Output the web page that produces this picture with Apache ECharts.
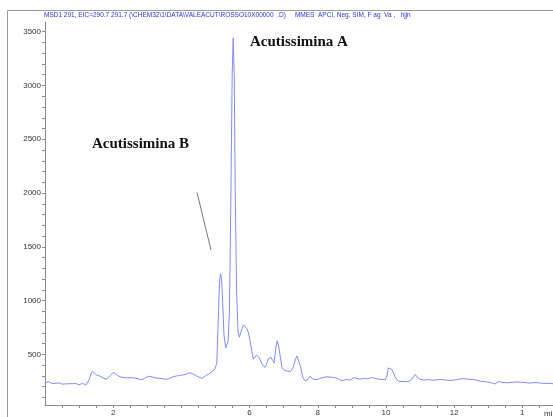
<!DOCTYPE html>
<html><head><meta charset="utf-8">
<script src="https://cdn.jsdelivr.net/npm/echarts@6/dist/echarts.min.js"></script>
<style>html,body{margin:0;padding:0;background:#fff}#c{width:553px;height:417px}</style>
</head><body><div id="c"></div>
<script>
// Retention time (min)
var times = [0.00,0.05,0.10,0.15,0.20,0.25,0.30,0.35,0.40,0.45,0.50,0.55,0.60,0.65,0.70,0.75,0.80,0.85,0.90,0.95,
1.00,1.05,1.10,1.15,1.20,1.25,1.30,1.35,1.40,1.45,1.50,1.55,1.60,1.65,1.70,1.75,1.80,1.85,1.90,1.95,
2.00,2.05,2.10,2.15,2.20,2.25,2.30,2.35,2.40,2.45,2.55,2.65,2.75,2.85,2.95,3.05,3.15,3.25,3.35,3.45,
3.55,3.65,3.75,3.85,3.95,4.05,4.15,4.25,4.35,4.45,4.55,4.62,4.70,4.80,4.90,4.98,5.04,5.08,5.12,5.15,
5.18,5.21,5.25,5.30,5.33,5.37,5.41,5.45,5.49,5.52,5.55,5.58,5.62,5.66,5.70,5.74,5.78,5.82,5.87,5.92,
5.97,6.04,6.11,6.16,6.21,6.28,6.36,6.45,6.50,6.55,6.62,6.68,6.72,6.77,6.81,6.85,6.89,6.95,7.02,7.12,
7.20,7.28,7.35,7.39,7.45,7.50,7.56,7.62,7.70,7.78,7.85,7.95,8.05,8.15,8.27,8.40,8.55,8.66,8.75,8.85,
8.95,9.05,9.15,9.24,9.35,9.45,9.59,9.70,9.83,9.98,10.03,10.07,10.12,10.17,10.22,10.27,10.37,10.50,10.61,10.70,
10.76,10.82,10.86,10.90,10.95,11.10,11.25,11.40,11.59,11.75,11.90,12.08,12.18,12.27,12.40,12.57,12.76,12.95,13.10,13.20,
13.30,13.42,13.55,13.70,13.82,13.94,14.10,14.20,14.33,14.50,14.60,14.72,14.90];
// Abundance
var abundance = [235,245,248,240,232,238,230,226,235,228,224,232,226,220,228,235,228,222,230,226,
218,224,232,222,215,222,268,320,342,330,310,322,300,290,282,276,268,285,300,318,
332,318,312,300,292,296,285,290,282,288,285,280,272,264,285,298,290,282,278,273,
270,276,292,300,304,310,318,330,318,300,285,279,300,318,340,362,420,800,1180,1250,
1200,1000,680,560,555,620,900,1900,3100,3440,3100,2000,1100,720,660,657,740,775,770,740,
700,580,455,470,495,470,414,380,410,460,475,445,420,560,626,580,500,380,350,345,
342,380,460,485,430,380,290,258,262,298,272,265,275,285,292,288,282,262,258,268,
262,285,276,270,278,274,285,276,268,265,300,375,368,360,330,290,250,248,245,255,
270,295,315,298,275,262,266,260,268,262,258,265,272,275,270,268,252,245,236,225,
248,240,236,240,244,242,238,233,238,236,230,232,228];
var xLabelTimes = [2, 6, 8, 10, 12, 14];
var xLabelTexts = ['2', '6', '8', '10', '12', '1'];
var yLabelValues = [500, 1000, 1500, 2000, 2500, 3000, 3500];
var yTickValues = [100,200,300,400,500,600,700,800,900,1000,1100,1200,1300,1400,1500,1600,1700,1800,1900,2000,
2100,2200,2300,2400,2500,2600,2700,2800,2900,3000,3100,3200,3300,3400,3500];
var titleText = 'MSD1 291, EIC=290.7 291.7 (\\CHEM32\\1\\DATA\\VALEACUT\\ROSSO10X00000  .D)     MMES  APCI, Neg, SIM, F ag  Va ,   hjjn';
var leader = [[4.46, 2005], [4.87, 1469]];

var chart = echarts.init(document.getElementById('c'), null, {renderer: 'canvas'});
var pts = times.map(function (t, i) { return [t, abundance[i]]; });
var axisGray = '#8a8a8a';
chart.setOption({
  animation: false,
  title: {
    text: titleText, left: 44, top: 12, padding: 0,
    textStyle: {fontSize: 6.5, fontWeight: 'normal', color: '#2a35d8', fontFamily: 'Liberation Sans'}
  },
  grid: {left: 45, right: 0, top: 22, bottom: 9, containLabel: false},
  xAxis: {
    type: 'value', min: 0, max: 14.9, interval: 0.5,
    axisLine: {lineStyle: {color: axisGray, width: 1}},
    axisTick: {show: true, length: 3, lineStyle: {color: axisGray}},
    splitLine: {show: false},
    axisLabel: {
      fontSize: 8, color: '#333', margin: 4, fontFamily: 'Liberation Sans',
      showMinLabel: false, showMaxLabel: false,
      formatter: function (v) {
        for (var i = 0; i < xLabelTimes.length; i++) {
          if (Math.abs(v - xLabelTimes[i]) < 1e-6) return xLabelTexts[i];
        }
        return '';
      }
    }
  },
  yAxis: {
    type: 'value', min: 30, max: 3590,
    axisLine: {show: true, lineStyle: {color: axisGray, width: 1}},
    axisTick: {show: true, length: 3, customValues: yTickValues, lineStyle: {color: axisGray}},
    splitLine: {show: false},
    axisLabel: {
      fontSize: 8, color: '#333', margin: 4, fontFamily: 'Liberation Sans', customValues: yLabelValues,
      formatter: function (v) { return String(Math.round(v)); }
    }
  },
  graphic: [
    {type: 'polyline', shape: {points: [[7.5, 417], [7.5, 10.5], [553, 10.5]]}, style: {stroke: '#9a9a9a', fill: null, lineWidth: 1}, silent: true},
    {type: 'text', left: 250, top: 35, style: {text: 'Acutissimina A', font: 'bold 15px "Liberation Serif"', fill: '#111'}},
    {type: 'text', left: 92, top: 137, style: {text: 'Acutissimina B', font: 'bold 15px "Liberation Serif"', fill: '#111'}},
    {type: 'text', left: 544, top: 410, style: {text: 'min', font: '8px "Liberation Sans"', fill: '#333'}}
  ],
  series: [{
    type: 'line', data: pts, showSymbol: false, symbol: 'none',
    lineStyle: {color: '#7c8cff', width: 1}, clip: false,
    markLine: {
      silent: true, symbol: ['none', 'none'],
      lineStyle: {color: '#777', width: 1, type: 'solid'},
      label: {show: false},
      data: [[{coord: leader[0]}, {coord: leader[1]}]]
    }
  }]
});
</script></body></html>
